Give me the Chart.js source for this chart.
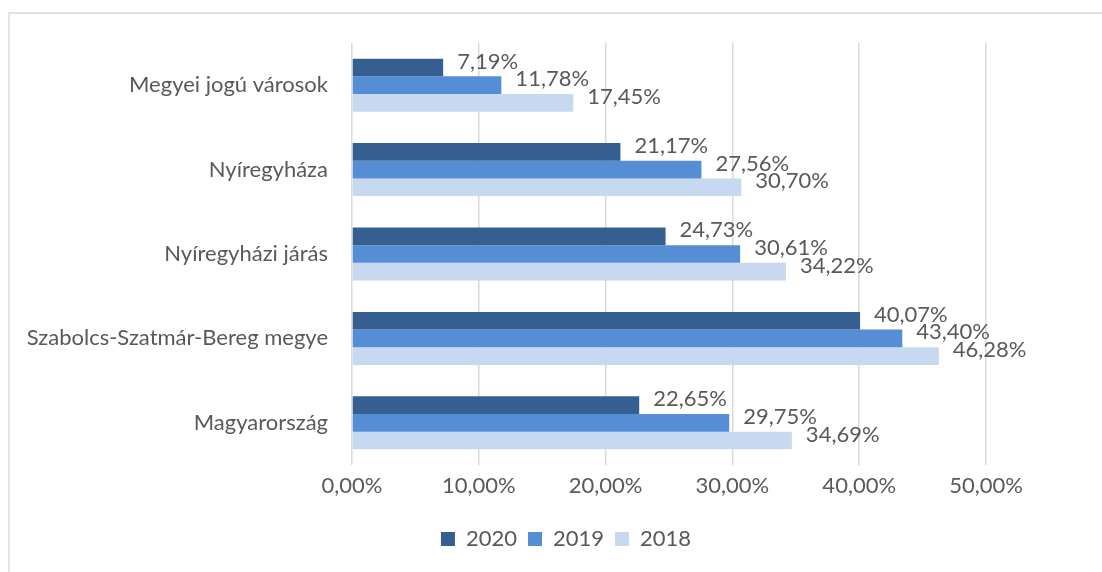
<!DOCTYPE html>
<html lang="hu">
<head>
<meta charset="UTF-8">
<title>Bar chart</title>
<script src="https://cdn.jsdelivr.net/npm/chart.js"></script>
<style>
    body {
        margin: 0;
        background: #ffffff;
        overflow: hidden;
    }
    #frame {
        position: absolute;
        left: 8px;
        top: 12px;
        width: 1200px;
        height: 700px;
        border: 2px solid #e2e2e2;
    }
    #barChart {
        position: absolute;
        left: 0;
        top: 0;
    }
</style>
</head>
<body>
<div id="frame"></div>
<canvas id="barChart" width="1140" height="572"></canvas>

<script>
    const categories = ['Megyei jogú városok', 'Nyíregyháza', 'Nyíregyházi járás', 'Szabolcs-Szatmár-Bereg megye', 'Magyarország'];
    const seriesNames = ['2020', '2019', '2018'];
    const values2020 = [7.19, 21.17, 24.73, 40.07, 22.65];
    const values2019 = [11.78, 27.56, 30.61, 43.40, 29.75];
    const values2018 = [17.45, 30.70, 34.22, 46.28, 34.69];
    const tickValues = [0, 10, 20, 30, 40, 50];

    const textColor = '#595959';
    const fontFamily = 'Lato, "Open Sans", sans-serif';
    const fmt = v => v.toFixed(2).replace('.', ',') + '%';

    // value labels next to bar ends
    const valueLabels = {
        id: 'valueLabels',
        afterDatasetsDraw(chart) {
            const ctx = chart.ctx;
            ctx.save();
            ctx.font = '22px ' + fontFamily;
            ctx.fillStyle = textColor;
            ctx.textAlign = 'left';
            ctx.textBaseline = 'middle';
            chart.data.datasets.forEach((ds, i) => {
                chart.getDatasetMeta(i).data.forEach((bar, j) => {
                    ctx.fillText(fmt(ds.data[j]), bar.x + 14, bar.y - 6);
                });
            });
            ctx.restore();
        }
    };

    new Chart(document.getElementById('barChart'), {
        type: 'bar',
        data: {
            labels: categories,
            datasets: [
                { label: seriesNames[0], data: values2020, backgroundColor: '#355f91' },
                { label: seriesNames[1], data: values2019, backgroundColor: '#558ed5' },
                { label: seriesNames[2], data: values2018, backgroundColor: '#c6d9f0' }
            ]
        },
        options: {
            indexAxis: 'y',
            responsive: false,
            animation: false,
            categoryPercentage: 0.628,
            barPercentage: 1,
            layout: { padding: { top: 43, right: 8, left: 0, bottom: 12 } },
            scales: {
                x: {
                    min: tickValues[0],
                    max: tickValues[tickValues.length - 1],
                    afterBuildTicks(s) { s.ticks = tickValues.map(v => ({ value: v })); },
                    ticks: {
                        color: textColor,
                        font: { family: fontFamily, size: 22 },
                        padding: 8,
                        callback: v => fmt(v)
                    },
                    grid: { color: '#d9d9d9', lineWidth: 1.5, drawTicks: false },
                    border: { display: false },
                    afterFit(s) { s.height = 52; }
                },
                y: {
                    ticks: {
                        color: textColor,
                        font: { family: fontFamily, size: 22 },
                        padding: 24
                    },
                    grid: { display: false, drawTicks: false },
                    border: { display: false },
                    afterFit(s) { s.width = 352; }
                },
                // empty right-hand spacer so the legend centres like the original
                spacer: {
                    type: 'category',
                    position: 'right',
                    ticks: { display: false },
                    grid: { display: false, drawTicks: false },
                    border: { display: false },
                    afterFit(s) { s.width = 146; }
                }
            },
            plugins: {
                legend: {
                    position: 'bottom',
                    labels: {
                        boxWidth: 14,
                        boxHeight: 14,
                        color: textColor,
                        font: { family: fontFamily, size: 22 },
                        padding: 11
                    }
                },
                tooltip: { enabled: false }
            }
        },
        plugins: [valueLabels]
    });
</script>
</body>
</html>
